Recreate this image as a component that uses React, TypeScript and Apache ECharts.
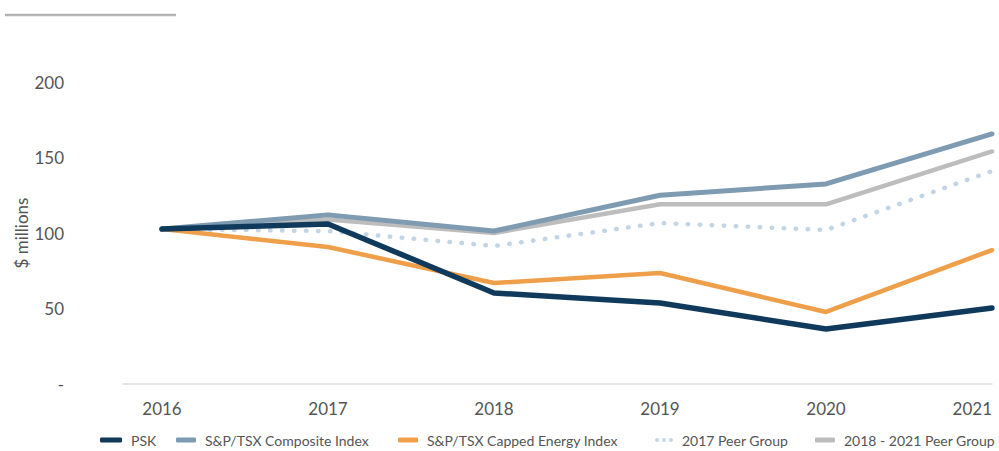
import React, { useEffect, useRef } from "react";
import * as echarts from "echarts";

const years = [2016, 2017, 2018, 2019, 2020, 2021];
const psk = [102.6, 106, 60.3, 53.6, 36.4, 50.3];
const composite = [102.6, 112, 101.3, 125, 132.5, 165.6];
const energy = [102.6, 90.7, 66.9, 73.5, 47.7, 88.7];
const peer2017 = [102.6, 101.3, 91.4, 106.6, 102, 141];
const peer2018 = [102.6, 109, 100, 119, 119, 154];
const yTicks = [0, 50, 100, 150, 200];

const FONT = "Lato, 'Noto Sans', sans-serif";

const pairs = (vals: number[]) => years.map((y, i) => [y, vals[i]]);

export default function App() {
  const ref = useRef<HTMLDivElement>(null);
  useEffect(() => {
    if (!ref.current) return;
    const chart = echarts.init(ref.current, undefined, { renderer: "svg" });
    const dots = "path://M2,2m-2,0a2,2 0 1,0 4,0a2,2 0 1,0 -4,0M9,2m-2,0a2,2 0 1,0 4,0a2,2 0 1,0 -4,0M16,2m-2,0a2,2 0 1,0 4,0a2,2 0 1,0 -4,0";
    const legendItem = (name: string, left: number, icon: string, w: number, h: number) => ({
      data: [{ name, icon }],
      left,
      top: 433,
      itemWidth: w,
      itemHeight: h,
      padding: 0,
      selectedMode: false,
      textStyle: { color: "#555", fontSize: 14, fontFamily: FONT, padding: [0, 0, 0, 4] },
    });
    chart.setOption({
      animation: false,
      grid: { left: 123, right: 7, top: 82, bottom: 67 },
      graphic: [
        { type: "line", shape: { x1: 5, y1: 15, x2: 176, y2: 15 }, style: { stroke: "#b3b3b3", lineWidth: 2.5 } },
      ],
      legend: [
        legendItem("PSK", 100, "roundRect", 22, 5),
        legendItem("S&P/TSX Composite Index", 176, "roundRect", 20, 5),
        legendItem("S&P/TSX Capped Energy Index", 398, "roundRect", 20, 5),
        legendItem("2017 Peer Group", 655, dots, 18, 4),
        legendItem("2018 - 2021 Peer Group", 815, "roundRect", 20, 5),
      ],
      xAxis: {
        type: "value",
        min: 2015.765,
        max: 2021,
        splitLine: { show: false },
        axisLine: { show: true, lineStyle: { color: "#dcdcdc", width: 1.5 } },
        axisTick: { show: false },
        axisLabel: {
          customValues: years,
          color: "#555",
          fontSize: 17,
          fontFamily: FONT,
          margin: 16,
          alignMaxLabel: "right",
          formatter: (v: number) => String(Math.round(v)),
        },
      },
      yAxis: {
        type: "value",
        min: 0,
        max: 200,
        interval: 50,
        name: "$ millions",
        nameLocation: "middle",
        nameRotate: 90,
        nameGap: 93,
        nameMoveOverlap: false,
        nameTextStyle: { color: "#555", fontSize: 17, fontFamily: FONT },
        splitLine: { show: false },
        axisLine: { show: false },
        axisTick: { show: false },
        axisLabel: {
          customValues: yTicks,
          color: "#555",
          fontSize: 17,
          fontFamily: FONT,
          margin: 59,
          formatter: (v: number) => (v === 0 ? "-" : String(v)),
        },
      },
      series: [
        {
          name: "2017 Peer Group",
          type: "line",
          data: pairs(peer2017),
          symbol: "none",
          color: "#c3d5e4",
          lineStyle: { color: "#c3d5e4", width: 4.5, type: [0.5, 11.5], cap: "round" },
        },
        {
          name: "2018 - 2021 Peer Group",
          type: "line",
          data: pairs(peer2018),
          symbol: "none",
          color: "#bdbdbd",
          lineStyle: { color: "#bdbdbd", width: 4.5, cap: "round" },
        },
        {
          name: "S&P/TSX Composite Index",
          type: "line",
          data: pairs(composite),
          symbol: "none",
          color: "#7f9bb1",
          lineStyle: { color: "#7f9bb1", width: 5, cap: "round" },
        },
        {
          name: "S&P/TSX Capped Energy Index",
          type: "line",
          data: pairs(energy),
          symbol: "none",
          color: "#ef9f4a",
          lineStyle: { color: "#ef9f4a", width: 4.5, cap: "round" },
        },
        {
          name: "PSK",
          type: "line",
          data: pairs(psk),
          symbol: "none",
          color: "#0f3a5c",
          lineStyle: { color: "#0f3a5c", width: 5.5, cap: "round" },
        },
      ],
    });
    return () => chart.dispose();
  }, []);
  return <div ref={ref} style={{ width: 999, height: 451, position: "absolute", left: 0, top: 0 }} />;
}
